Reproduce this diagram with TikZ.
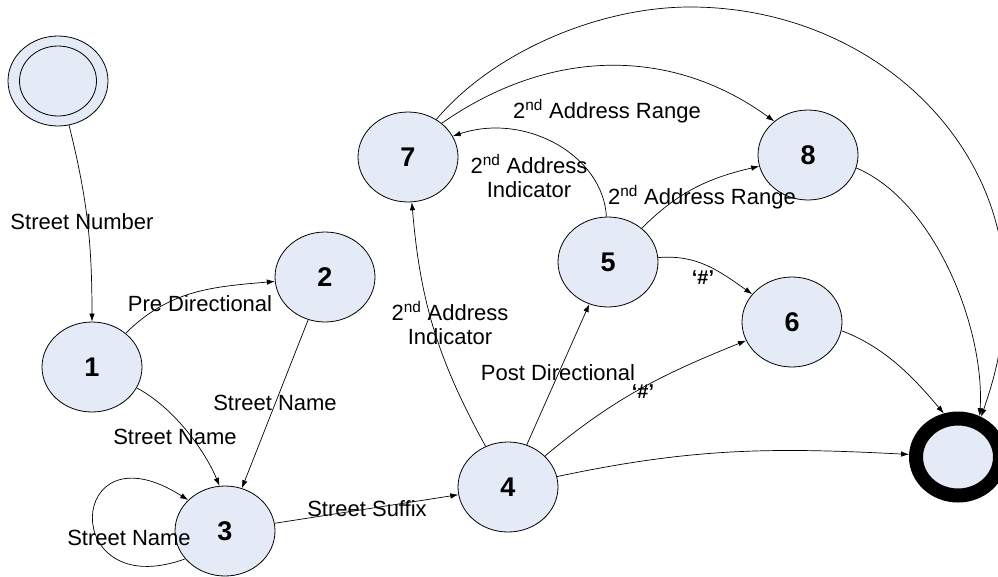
\documentclass[tikz,border=0pt]{standalone}
\usepackage{fontspec}
\setmainfont{Liberation Sans}
\usetikzlibrary{arrows.meta,positioning,shapes.geometric}
\definecolor{statefill}{HTML}{E4EBF6}

\begin{document}
\begin{tikzpicture}[x=1pt,y=1pt,
    state/.style={ellipse,draw,fill=statefill,line width=0.8pt,
      minimum width=100pt,minimum height=90pt,inner sep=0pt,
      font=\fontsize{27}{27}\selectfont\bfseries},
    lbl/.style={inner sep=0pt,font=\fontsize{22}{24}\selectfont},
    hash/.style={inner sep=0pt,font=\fontsize{20}{20}\selectfont\bfseries},
    arr/.style={-{Latex[length=8pt,width=5.5pt]},line width=0.7pt}]
  \useasboundingbox (0,0) rectangle (998,-576);

  % states
  \node[state] (start) at (58,-81) {};
  \node[ellipse,draw,line width=0.8pt,minimum width=77pt,minimum height=70pt]
    (startin) at (start) {};
  \node[state] (s1) at (92,-367) {1};
  \node[state] (s2) at (325,-277) {2};
  \node[state] (s3) at (225,-531) {3};
  \node[state] (s4) at (508,-487) {4};
  \node[state] (s5) at (608,-262) {5};
  \node[state] (s6) at (792,-322) {6};
  \node[state] (s7) at (408,-157) {7};
  \node[state] (s8) at (808,-155) {8};
  \node[state,line width=14pt,minimum width=84pt,minimum height=77pt]
    (final) at (958,-457) {};

  % transitions
  \draw[arr] (start) to[out=-76,in=90] (s1);
  \draw[arr] (s1) to[out=45,in=185] (s2);
  \draw[arr] (s2) -- (s3);
  \draw[arr] (s1.-25) .. controls (176,-409) and (206,-453) .. (s3.97);
  \draw[arr] (s3.215) .. controls (58,-605) and (66,-422) .. (s3.140);
  \draw[arr] (s3) -- (s4);
  \draw[arr] (s4) to[bend left=12] (s7);
  \draw[arr] (s4) -- (s5);
  \draw[arr] (s4) to[out=40,in=202] (s6);
  \draw[arr] (s4) to[out=12,in=177] (final);
  \draw[arr] (s5.92) .. controls (603,-155) and (525,-112) .. (s7.25);
  \draw[arr] (s5) to[out=45,in=193] (s8);
  \draw[arr] (s5) to[out=5,in=145] (s6);
  \draw[arr] (s7.45) .. controls (551,-47) and (672,-47) .. (s8.135);
  \draw[arr] (s7.53) .. controls (494,-51) and (600,-7) .. (690,-7)
    .. controls (864,-7) and (1005,-134) .. (1005,-290)
    .. controls (1005,-345) and (992,-385) .. (final.60);
  \draw[arr] (s8.-15) .. controls (936,-202) and (985,-330) .. (final.62);
  \draw[arr] (s6.-10) .. controls (888,-348) and (918,-383) .. (final.108);

  % labels
  \node[lbl] (lnum) at (82,-222) {Street Number};
  \node[lbl] (lpre) at (200,-304) {Pre Directional};
  \node[lbl] (lname1) at (175,-437) {Street Name};
  \node[lbl] (lname2) at (275,-403) {Street Name};
  \node[lbl] (lname3) at (129,-538) {Street Name};
  \node[lbl] (lsuf) at (367,-509) {Street Suffix};
  \node[lbl,align=center] (lind1) at (450,-323)
    {2\textsuperscript{nd} Address\\Indicator};
  \node[lbl] (lpost) at (558,-373) {Post Directional};
  \node[hash] (lhash1) at (643,-392) {`\#'};
  \node[lbl,align=center] (lind2) at (529,-176)
    {2\textsuperscript{nd} Address\\Indicator};
  \node[lbl] (lrng1) at (702,-197) {2\textsuperscript{nd} Address Range};
  \node[hash] (lhash2) at (703,-278) {`\#'};
  \node[lbl] (lrng2) at (607,-111) {2\textsuperscript{nd} Address Range};
\end{tikzpicture}
\end{document}
